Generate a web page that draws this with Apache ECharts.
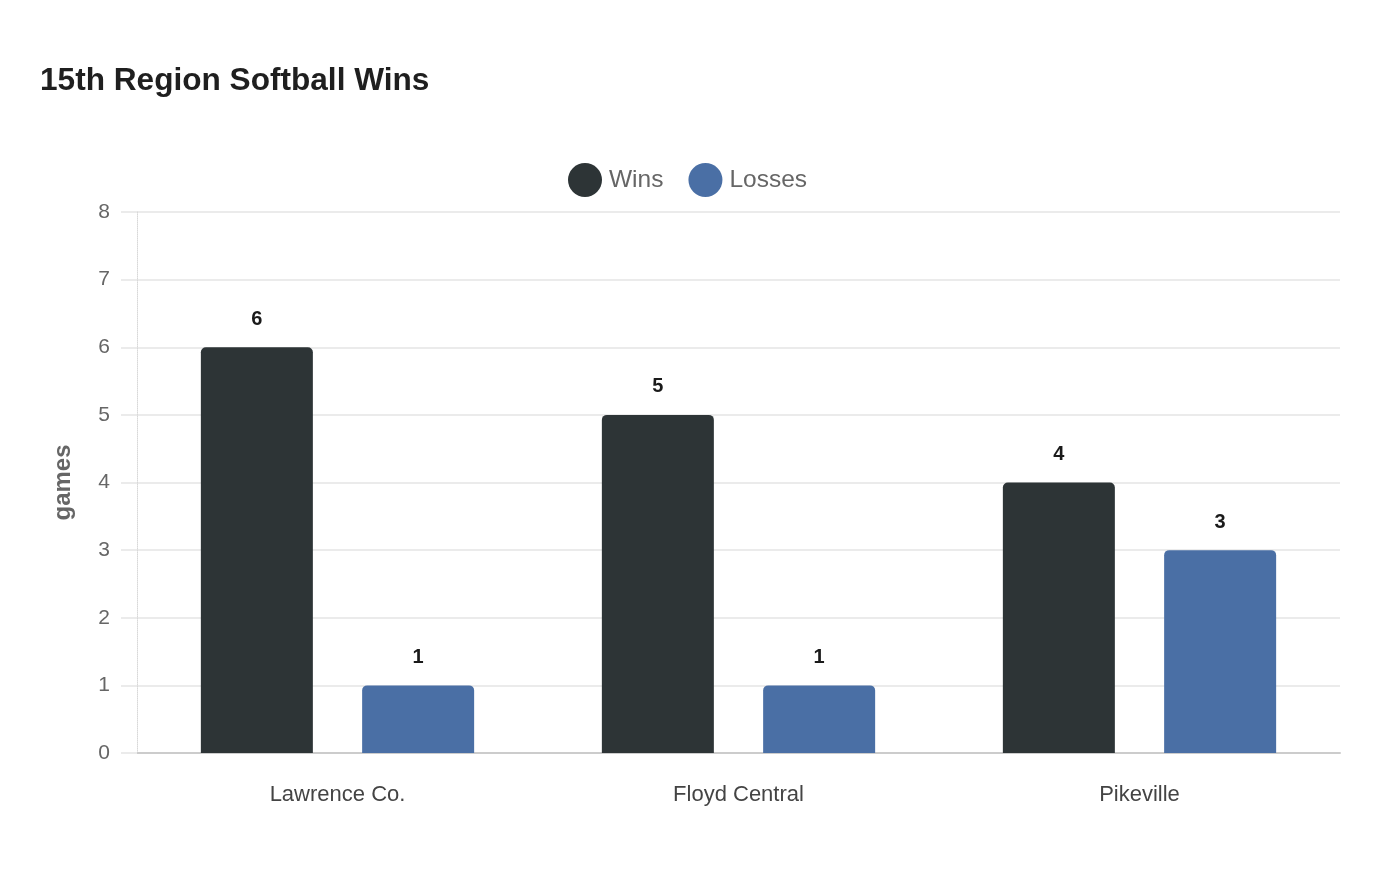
<!DOCTYPE html>
<html>
<head>
<meta charset="utf-8">
<script src="https://cdn.jsdelivr.net/npm/echarts@6/dist/echarts.min.js"></script>
<style>
  html, body { margin: 0; padding: 0; background: #fff; }
  #container { width: 1400px; height: 880px; }
</style>
</head>
<body>
<div id="container"></div>
<script>
var teams = ['Lawrence Co.', 'Floyd Central', 'Pikeville'];
var wins = [6, 5, 4];
var losses = [1, 1, 3];
var yTicks = [0, 8, 1]; // min, max, interval

var myChart = echarts.init(document.getElementById('container'));
var font = 'Liberation Sans, Arial, sans-serif';

var labelStyle = {
    show: true,
    position: 'top',
    distance: 18,
    fontFamily: font,
    fontSize: 20,
    fontWeight: 'bold',
    color: '#1a1a1a'
};

var option = {
    backgroundColor: '#fff',
    textStyle: { fontFamily: font },
    title: {
        text: '15th Region Softball Wins',
        left: 40,
        top: 65,
        padding: 0,
        textStyle: { fontFamily: font, fontSize: 31.6, fontWeight: 'bold', color: '#1f1f1f' }
    },
    legend: {
        top: 158,
        left: 563,
        icon: 'circle',
        itemWidth: 34,
        itemHeight: 34,
        itemGap: 25,
        textStyle: { fontFamily: font, fontSize: 24.5, color: '#666', padding: [0, 0, 0, 2] },
        data: ['Wins', 'Losses']
    },
    grid: { left: 137, right: 60, top: 212, bottom: 127, containLabel: false },
    xAxis: {
        type: 'category',
        data: teams,
        axisLine: { show: true, lineStyle: { color: '#cccccc', width: 2 } },
        axisTick: { show: false },
        axisLabel: { fontFamily: font, fontSize: 22, color: '#444', margin: 31 },
        splitLine: { show: false }
    },
    yAxis: {
        type: 'value',
        min: yTicks[0],
        max: yTicks[1],
        interval: yTicks[2],
        name: 'games',
        nameLocation: 'middle',
        nameGap: 62,
        nameRotate: 90,
        nameTextStyle: { fontFamily: font, fontSize: 24, fontWeight: 'bold', color: '#666' },
        axisLine: { show: true, lineStyle: { color: '#d8d8d8', type: 'dotted', width: 1 } },
        axisTick: { show: true, length: 16, lineStyle: { color: '#ebebeb', width: 2 } },
        axisLabel: { fontFamily: font, fontSize: 21, color: '#666', margin: 27 },
        splitLine: { show: true, lineStyle: { color: '#ebebeb', width: 2 } }
    },
    series: [
        {
            name: 'Wins',
            type: 'bar',
            data: wins,
            barWidth: 112,
            barGap: '44%',
            itemStyle: { color: '#2d3436', borderRadius: [5, 5, 0, 0] },
            label: labelStyle
        },
        {
            name: 'Losses',
            type: 'bar',
            data: losses,
            barWidth: 112,
            itemStyle: { color: '#4a6fa5', borderRadius: [5, 5, 0, 0] },
            label: labelStyle
        }
    ]
};

if (option && typeof option === 'object') {
    myChart.setOption(option, true);
}
</script>
</body>
</html>
